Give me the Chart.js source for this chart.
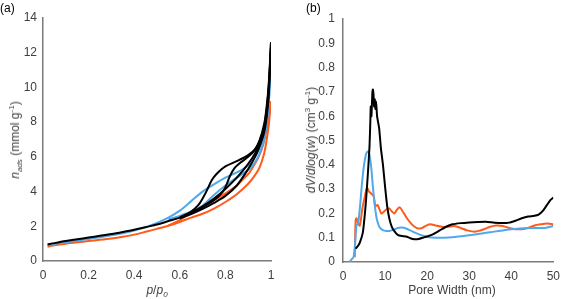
<!DOCTYPE html>
<html>
<head>
<meta charset="utf-8">
<script src="https://cdn.jsdelivr.net/npm/chart.js@4/dist/chart.umd.min.js"></script>
<style>
  html, body { margin: 0; padding: 0; background: #fff; overflow: hidden; width: 567px; height: 299px; }
  .panel { position: absolute; top: 0; }
  .lbl { position: absolute; font-family: "Liberation Sans", Arial, sans-serif; color: #404040; font-size: 12px; white-space: nowrap; line-height: 1; }
  .c { transform: translate(-50%, -50%); }
  .r { transform: translate(-50%, -50%) rotate(-90deg); }
  sub, sup { font-size: 8px; line-height: 0; }
  .plabel { color: #000; font-size: 12px; }
</style>
</head>
<body>
<div class="panel" style="left:0;width:287px;height:299px"><canvas id="ca" width="287" height="299"></canvas></div>
<div class="panel" style="left:290px;width:277px;height:299px"><canvas id="cb" width="277" height="299"></canvas></div>

<div class="lbl plabel" style="left:0px;top:2px">(a)</div>
<div class="lbl plabel" style="left:306px;top:2px">(b)</div>
<div class="lbl r" style="left:15px;top:140px"><i>n<sub>ads</sub></i> (mmol g<sup>-1</sup>)</div>
<div class="lbl c" style="left:157px;top:290px"><i>p</i>/<i>p<sub>0</sub></i></div>
<div class="lbl r" style="left:311px;top:140px"><i>dV</i>/<i>dlog</i>(<i>w</i>) (cm<sup>3</sup> g<sup>-1</sup>)</div>
<div class="lbl c" style="left:452px;top:290px">Pore Width (nm)</div>

<script>
// ---------- Panel (a): isotherms ----------
const xTicksA = ['0', '0.2', '0.4', '0.6', '0.8', '1'];
const yTicksA = ['0', '2', '4', '6', '8', '10', '12', '14'];

const pOrangeAds = [0.02,0.05,0.1,0.15,0.2,0.25,0.3,0.35,0.4,0.45,0.5,0.55,0.6,0.65,0.7,0.75,0.8,0.85,0.9,0.93,0.95,0.97,0.98,0.99,0.995,1.0];
const nOrangeAds = [0.82,0.9,1.0,1.08,1.15,1.22,1.3,1.4,1.52,1.68,1.85,2.03,2.25,2.5,2.72,3.02,3.4,3.85,4.45,4.95,5.4,6.2,6.9,7.8,8.5,9.2];
const pOrangeDes = [0.55,0.6,0.65,0.7,0.75,0.8,0.85,0.88,0.9,0.92,0.94,0.96,0.98,0.99,1.0];
const nOrangeDes = [2.05,2.35,2.8,3.15,3.5,3.9,4.35,4.75,5.0,5.4,5.85,6.45,7.5,8.3,9.2];

const pBlueA = [0.02,0.05,0.1,0.15,0.2,0.25,0.3,0.35,0.4,0.45,0.5,0.55,0.6,0.65,0.7,0.75,0.8,0.85,0.9,0.93,0.95,0.97,0.98,0.99,1.0];
const nBlueA = [0.9,0.98,1.08,1.17,1.27,1.37,1.48,1.6,1.75,1.95,2.2,2.5,2.9,3.45,4.0,4.42,4.8,5.1,5.5,6.0,6.5,7.2,8.0,9.2,11.6];
const pBlueB = [0.55,0.6,0.65,0.7,0.75,0.8,0.85,0.9,0.93,0.95,0.97,0.98,0.99,1.0];
const nBlueB = [2.4,2.6,2.85,3.2,3.8,4.35,4.8,5.25,5.7,6.2,7.0,7.8,9.0,11.6];

const pBlack1Ads = [0.02,0.05,0.1,0.15,0.2,0.25,0.3,0.35,0.4,0.45,0.5,0.55,0.6,0.65,0.7,0.75,0.8,0.85,0.9,0.93,0.95,0.97,0.98,0.99,1.0];
const nBlack1Ads = [0.95,1.03,1.15,1.25,1.35,1.45,1.55,1.67,1.8,1.95,2.1,2.3,2.5,2.8,3.15,3.6,4.15,4.8,5.6,6.2,6.8,7.6,8.4,9.8,12.6];
const pBlack1Des = [0.6,0.65,0.68,0.7,0.72,0.74,0.76,0.8,0.85,0.9,0.93,0.95,0.97,0.98,0.99,1.0];
const nBlack1Des = [2.5,2.85,3.2,3.6,4.1,4.65,5.0,5.45,5.75,6.1,6.45,6.95,7.9,8.8,10.2,12.6];
const pBlack2Ads = [0.6,0.65,0.7,0.75,0.8,0.85,0.9,0.93,0.95,0.97,0.98,0.99,1.0];
const nBlack2Ads = [2.45,2.7,3.0,3.35,3.75,4.35,5.3,6.0,6.6,7.4,8.2,9.5,12.3];
const pBlack2Des = [0.65,0.7,0.75,0.78,0.8,0.82,0.84,0.86,0.9,0.93,0.95,0.97,0.98,0.99,1.0];
const nBlack2Des = [2.75,3.1,3.5,3.85,4.25,4.9,5.35,5.6,6.0,6.4,6.9,7.7,8.6,10.0,12.3];

// ---------- Panel (b): pore size distribution ----------
const xTicksB = ['0', '10', '20', '30', '40', '50'];
const yTicksB = ['0', '0.1', '0.2', '0.3', '0.4', '0.5', '0.6', '0.7', '0.8', '0.9', '1'];

const wOrange = [2.8,3.0,3.2,3.6,4.0,4.6,5.2,5.7,6.2,6.8,7.3,7.7,8.2,8.6,9.1,9.6,10.2,11.0,11.5,12.2,12.8,13.5,14.3,15.2,16.1,17.0,17.8,18.8,19.8,20.8,22.0,23.5,25.0,26.5,28.0,29.5,31.0,32.0,33.5,35.0,36.5,38.0,39.5,41.0,42.5,44.0,45.5,47.0,48.5,50.0];
const vOrange = [0.02,0.17,0.18,0.16,0.15,0.22,0.27,0.305,0.29,0.28,0.27,0.23,0.235,0.22,0.2,0.205,0.215,0.22,0.21,0.2,0.215,0.225,0.205,0.18,0.16,0.145,0.138,0.14,0.15,0.155,0.15,0.145,0.145,0.148,0.14,0.13,0.125,0.127,0.135,0.145,0.15,0.148,0.14,0.135,0.135,0.14,0.15,0.155,0.158,0.155];

const wBlue = [1.5,2.0,2.5,2.9,3.2,3.6,4.0,4.5,5.0,5.5,5.9,6.3,6.7,7.1,7.5,8.0,8.5,9.0,9.6,10.2,11.0,12.0,13.0,14.0,15.0,16.0,17.5,19.0,20.5,22.0,24.0,26.0,28.0,30.0,32.0,34.0,36.0,38.0,40.0,42.0,44.0,46.0,48.0,50.0];
const vBlue = [0,0.01,0.02,0.08,0.15,0.16,0.22,0.32,0.4,0.445,0.455,0.44,0.39,0.31,0.24,0.18,0.15,0.137,0.13,0.128,0.128,0.132,0.14,0.142,0.138,0.13,0.118,0.108,0.102,0.1,0.1,0.102,0.106,0.11,0.115,0.12,0.125,0.13,0.135,0.138,0.14,0.14,0.14,0.148];

const wBlack = [3.0,3.5,4.0,4.7,5.1,5.5,5.9,6.3,6.5,6.6,6.75,6.9,7.0,7.1,7.25,7.4,7.55,7.7,7.8,7.95,8.1,8.3,8.6,9.0,9.5,10.0,10.5,11.0,11.6,12.3,13.0,14.0,15.0,16.0,17.0,18.0,19.0,20.0,21.5,23.0,24.5,26.0,28.0,30.0,32.0,34.0,36.0,38.0,39.5,41.0,42.5,44.0,45.5,46.5,47.5,48.5,49.3,50.0];
const vBlack = [0.055,0.065,0.08,0.12,0.18,0.26,0.36,0.475,0.58,0.64,0.6,0.66,0.7,0.71,0.69,0.64,0.67,0.63,0.66,0.64,0.6,0.58,0.55,0.47,0.4,0.31,0.23,0.18,0.145,0.125,0.112,0.107,0.105,0.098,0.094,0.095,0.1,0.105,0.115,0.13,0.145,0.155,0.16,0.163,0.165,0.166,0.162,0.16,0.162,0.17,0.18,0.187,0.19,0.195,0.21,0.235,0.255,0.265];

// ---------- helpers ----------
const BLUE = '#4fa9ec';
const ORANGE = '#ff5b1a';
const BLACK = '#000000';
const FONT = { family: '"Liberation Sans", Arial, sans-serif', size: 12 };
const TICKCOL = '#404040';
const AXISCOL = '#7a7a7a';

function pts(xs, ys) { return xs.map((x, i) => ({ x: x, y: ys[i] })); }
function ds(xs, ys, color, tension) {
  return { data: pts(xs, ys), borderColor: color, backgroundColor: color, borderWidth: 2,
           pointRadius: 0, showLine: true, fill: false, tension: tension };
}

function makeChart(id, datasets, opt) {
  return new Chart(document.getElementById(id), {
    type: 'scatter',
    data: { datasets: datasets },
    options: {
      responsive: false, animation: false, devicePixelRatio: 1,
      layout: { padding: { top: opt.top, right: opt.right, left: 0, bottom: 0 } },
      plugins: { legend: { display: false }, tooltip: { enabled: false } },
      scales: {
        x: {
          type: 'linear', min: opt.xmin, max: opt.xmax,
          grid: { display: false, drawTicks: false },
          border: { display: true, color: AXISCOL, width: 1.5 },
          ticks: { stepSize: opt.xstep, autoSkip: false, padding: 7, color: TICKCOL, font: FONT, maxRotation: 0,
                   callback: (v, i) => opt.xlabels[i] },
          afterFit: s => { s.height = opt.xh; }
        },
        y: {
          type: 'linear', min: opt.ymin, max: opt.ymax,
          grid: { display: false, drawTicks: false },
          border: { display: true, color: AXISCOL, width: 1.5 },
          ticks: { stepSize: opt.ystep, autoSkip: false, padding: opt.ypad, color: TICKCOL, font: FONT,
                   callback: (v, i) => opt.ylabels[i] },
          afterFit: s => { s.width = opt.yw; }
        }
      }
    }
  });
}

makeChart('ca', [
  ds(pBlack1Ads, nBlack1Ads, BLACK, 0.3),
  ds(pBlack1Des, nBlack1Des, BLACK, 0.3),
  ds(pBlack2Ads, nBlack2Ads, BLACK, 0.3),
  ds(pBlack2Des, nBlack2Des, BLACK, 0.3),
  ds(pBlueA, nBlueA, BLUE, 0.3),
  ds(pBlueB, nBlueB, BLUE, 0.3),
  ds(pOrangeAds, nOrangeAds, ORANGE, 0.3),
  ds(pOrangeDes, nOrangeDes, ORANGE, 0.3)
], { top: 18, right: 16, xmin: 0, xmax: 1, xstep: 0.2, ymin: 0, ymax: 14, ystep: 2,
     xlabels: xTicksA, ylabels: yTicksA, xh: 38, yw: 43, ypad: 6 });

makeChart('cb', [
  ds(wBlack, vBlack, BLACK, 0.2),
  ds(wBlue, vBlue, BLUE, 0.3),
  ds(wOrange, vOrange, ORANGE, 0.3)
], { top: 19, right: 6, xmin: 0, xmax: 50, xstep: 10, ymin: 0, ymax: 1, ystep: 0.1,
     xlabels: xTicksB, ylabels: yTicksB, xh: 37, yw: 53, ypad: 8 });
</script>
</body>
</html>
